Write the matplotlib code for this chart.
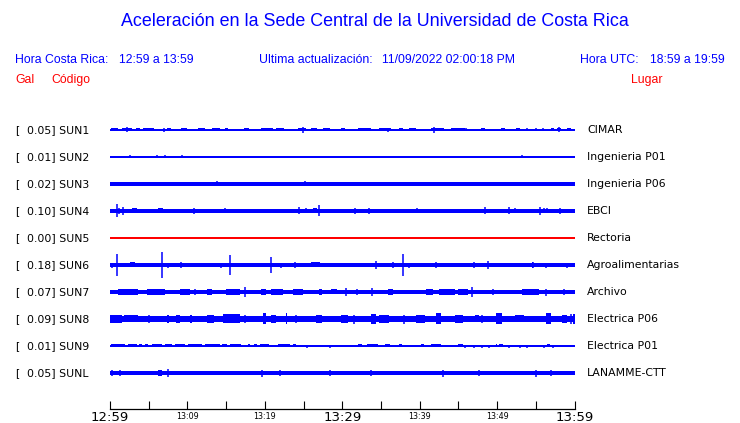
import matplotlib
matplotlib.use("Agg")
import matplotlib.pyplot as plt

# ---------------- data ----------------
codes = ["SUN1", "SUN2", "SUN3", "SUN4", "SUN5", "SUN6", "SUN7", "SUN8", "SUN9", "SUNL"]
peaks = ["0.05", "0.01", "0.02", "0.10", "0.00", "0.18", "0.07", "0.09", "0.01", "0.05"]
places = ["CIMAR", "Ingenieria P01", "Ingenieria P06", "EBCI", "Rectoria",
          "Agroalimentarias", "Archivo", "Electrica P06", "Electrica P01", "LANAMME-CTT"]
trace_colors = ["#0000ff"] * 4 + ["#ff0000"] + ["#0000ff"] * 5

# background half-amplitude of each trace (screen-pixel units)
base_amp = [0.55, 0.55, 1.8, 1.6, 0.55, 1.6, 2.1, 2.7, 0.55, 1.6]

# bursts: (start minute, end minute, half-amplitude)
sun1_bursts = [(0.1, 1.0, 1.5), (1.5, 2.8, 1.5), (3.4, 3.9, 1.5), (4.3, 5.7, 1.5), (7.4, 7.9, 1.5),
               (9.2, 9.9, 1.5), (10.1, 10.8, 1.2), (11.4, 12.3, 1.5), (12.5, 13.0, 1.2), (13.2, 14.2, 1.5),
               (14.5, 14.7, 1.2), (14.8, 15.2, 1.5), (15.6, 16.4, 1.2), (17.3, 17.9, 1.5), (18.5, 18.7, 1.2),
               (19.5, 21.0, 1.5), (21.4, 22.5, 1.5), (23.2, 23.6, 1.2), (24.3, 25.3, 1.5), (25.9, 26.8, 1.5),
               (27.5, 28.4, 1.5), (28.8, 29.4, 1.2), (29.8, 30.3, 1.5), (31.2, 31.6, 1.2), (32.0, 33.7, 1.5),
               (34.8, 36.3, 1.5), (37.3, 37.9, 1.5), (38.6, 39.5, 1.5), (40.4, 40.8, 1.2), (41.4, 43.1, 1.5),
               (44.0, 44.9, 1.5), (45.0, 45.9, 1.5), (47.9, 48.5, 1.5), (49.5, 49.8, 1.2), (50.5, 51.0, 1.5),
               (52.4, 53.0, 1.5), (56.9, 57.3, 1.5), (57.7, 58.2, 1.5), (59.0, 59.6, 1.5)]
sun2_bursts = [(2.5, 2.8, 1.2), (6.8, 7.0, 1.2)]
sun3_bursts = []
sun4_bursts = [(2.8, 3.5, 2.5), (6.2, 6.8, 2.5), (26.2, 26.7, 2.5), (36.6, 37.2, 2.2), (45.2, 46.3, 2.2)]
sun5_bursts = []
sun6_bursts = [(2.6, 3.2, 2.5), (8.1, 8.6, 2.0), (16.3, 17.5, 2.0), (25.9, 27.1, 2.5), (39.2, 40.5, 2.0),
               (45.4, 46.1, 2.0), (54.5, 54.7, 3.0)]
sun7_bursts = [(1.0, 3.6, 3.0), (4.8, 7.1, 2.8), (9.0, 10.3, 3.0), (12.5, 13.2, 3.0), (15.0, 16.8, 2.8),
               (19.5, 20.1, 3.0), (20.8, 22.3, 2.8), (23.6, 24.9, 3.0), (27.0, 27.4, 2.8), (28.5, 29.3, 2.5),
               (35.9, 36.5, 2.8), (40.8, 41.7, 2.8), (42.5, 44.5, 2.8), (45.0, 46.3, 2.8), (53.2, 55.4, 2.8)]
sun8_bursts = [(0.0, 1.5, 4.0), (1.8, 3.6, 3.5), (7.3, 7.6, 4.0), (8.5, 9.0, 4.0), (10.3, 10.6, 4.0),
               (12.5, 13.4, 4.0), (14.6, 16.8, 4.5), (19.7, 20.1, 5.5), (20.8, 21.5, 3.8), (22.7, 22.9, 5.5),
               (26.6, 27.4, 3.8), (29.8, 30.8, 3.8), (33.7, 34.3, 5.0), (34.8, 36.0, 3.8), (39.5, 40.7, 3.8),
               (42.1, 42.7, 5.5), (44.6, 45.6, 4.0), (47.2, 47.6, 3.5), (49.9, 50.6, 5.5), (52.3, 53.5, 3.5),
               (56.3, 57.0, 5.5), (58.4, 59.0, 4.0), (59.8, 60.0, 5.0)]
sun9_bursts = [(0.1, 1.9, 1.5), (2.3, 3.5, 1.5), (3.7, 4.1, 1.5), (4.5, 4.9, 1.5), (5.4, 6.7, 1.5),
               (7.1, 8.0, 1.5), (8.4, 9.7, 1.5), (10.1, 11.9, 1.5), (12.3, 14.2, 1.5), (14.5, 15.1, 1.5),
               (15.5, 16.9, 1.5), (17.8, 18.1, 1.5), (18.6, 19.0, 1.5), (19.4, 20.6, 1.5), (21.7, 23.2, 1.5),
               (23.6, 24.0, 1.5), (32.0, 32.6, 1.5), (33.2, 34.6, 1.5), (35.5, 36.2, 1.5), (37.3, 37.7, 1.5),
               (40.2, 40.6, 1.5), (41.4, 42.7, 1.5), (45.0, 45.6, 1.5), (49.8, 50.0, 1.5), (50.3, 50.8, 1.5),
               (56.5, 56.8, 1.5)]
sunl_bursts = [(5.4, 5.7, 2.2), (6.2, 6.7, 2.5), (9.3, 9.9, 2.2)]

# spikes: (minute, half-amplitude)
sun1_spikes = [(2.2, 2.5), (7.0, 2.0), (24.9, 3.0), (35.9, 2.0), (41.8, 3.0), (46.0, 1.5),
               (53.8, 1.5), (55.0, 1.5), (55.9, 1.5), (58.0, 2.5)]
sun2_spikes = [(1.2, 1.2), (2.6, 1.5), (6.1, 1.5), (7.1, 1.5), (7.4, 1.2), (8.1, 1.0),
               (9.3, 1.5), (10.6, 1.0), (53.2, 1.5)]
sun3_spikes = [(13.8, 2.5), (25.2, 2.5)]
sun4_spikes = [(0.9, 6.5), (1.1, 3.0), (1.7, 4.0), (4.5, 1.5), (10.8, 3.0), (12.5, 2.0), (14.4, 2.0),
               (14.8, 2.5), (20.5, 1.5), (21.2, 2.0), (24.4, 3.5), (25.3, 2.5), (27.0, 5.5), (31.7, 3.0),
               (33.5, 3.0), (38.7, 2.0), (39.7, 2.5), (42.7, 1.5), (44.7, 2.0), (48.5, 3.5), (51.6, 3.5),
               (52.3, 2.5), (55.5, 4.0), (56.1, 2.5), (56.4, 2.5), (57.0, 2.0), (58.1, 3.0)]
sun5_spikes = []
sun6_spikes = [(0.9, 10.5), (6.7, 12.5), (15.5, 10.0), (20.8, 7.5), (37.8, 11.0),
               (0.3, 2.5), (4.3, 2.0), (5.7, 2.0), (7.5, 2.5), (9.2, 3.0), (9.9, 2.0), (11.0, 2.0),
               (11.6, 2.0), (12.3, 2.0), (13.2, 2.0), (14.3, 2.5), (18.3, 2.0), (22.1, 2.5), (23.9, 3.0),
               (24.9, 2.0), (29.2, 2.0), (30.2, 2.0), (31.7, 2.0), (33.0, 2.0), (34.3, 3.5), (36.6, 3.0),
               (38.6, 2.5), (42.1, 3.0), (43.6, 2.0), (47.0, 3.0), (48.8, 4.0), (49.5, 2.0), (52.5, 2.0),
               (54.6, 3.0), (56.3, 2.5), (59.0, 2.5)]
sun7_spikes = [(11.0, 3.0), (17.4, 4.5), (30.5, 4.0), (31.9, 3.0), (33.9, 4.0), (46.8, 5.5),
               (49.5, 3.0), (56.3, 3.5), (58.6, 3.0)]
sun8_spikes = [(5.0, 4.0), (17.5, 4.0), (24.0, 4.0), (31.5, 4.5), (38.0, 4.5), (48.0, 4.0), (59.5, 5.0)]
sun9_spikes = [(25.5, 1.5), (28.4, 1.5), (45.8, 1.5), (47.0, 1.5), (48.0, 1.5), (49.0, 1.5),
               (51.5, 1.5), (52.9, 1.5), (53.9, 1.5), (56.0, 1.5), (57.2, 1.5)]
sunl_spikes = [(0.3, 3.0), (0.6, 2.0), (1.3, 2.5), (3.2, 2.0), (7.5, 4.0), (12.6, 2.0), (17.4, 2.0),
               (19.6, 3.5), (21.9, 2.5), (28.4, 3.0), (33.7, 2.5), (36.3, 2.0), (38.5, 1.5), (43.0, 3.5),
               (45.9, 2.0), (47.6, 2.5), (52.8, 2.0), (55.0, 3.5), (57.0, 2.5)]

all_bursts = [sun1_bursts, sun2_bursts, sun3_bursts, sun4_bursts, sun5_bursts,
              sun6_bursts, sun7_bursts, sun8_bursts, sun9_bursts, sunl_bursts]
all_spikes = [sun1_spikes, sun2_spikes, sun3_spikes, sun4_spikes, sun5_spikes,
              sun6_spikes, sun7_spikes, sun8_spikes, sun9_spikes, sunl_spikes]

tick_minutes = list(range(0, 61, 5))
tick_labels = {0: "12:59", 10: "13:09", 20: "13:19", 30: "13:29", 40: "13:39", 50: "13:49", 60: "13:59"}
big_ticks = [0, 30, 60]

title = "Aceleración en la Sede Central de la Universidad de Costa Rica"

# ---------------- drawing ----------------
W, H = 740, 423
fig = plt.figure(figsize=(W / 100, H / 100), dpi=100)
fig.patch.set_facecolor("white")

SPACING = 27.0  # pixels between traces
left_px, right_px, top_px, bot_px = 110, 574.5, 116.5, 409
ax = fig.add_axes([left_px / W, 1 - bot_px / H, (right_px - left_px) / W, (bot_px - top_px) / H])
ax.set_xlim(0, 60)
ax.set_ylim(-0.5 + (bot_px - top_px) / SPACING, -0.5)

for i in range(len(codes)):
    c = trace_colors[i]
    b = base_amp[i] / SPACING
    ax.fill_between([0, 60], i - b, i + b, color=c, lw=0)
    for t0, t1, h in all_bursts[i]:
        hh = h / SPACING
        ax.fill_between([t0, t1], i - hh, i + hh, color=c, lw=0)
    if all_spikes[i]:
        ts = [s[0] for s in all_spikes[i]]
        hs = [s[1] / SPACING for s in all_spikes[i]]
        ax.vlines(ts, [i - h for h in hs], [i + h for h in hs], color=c, lw=1.1)

for s in ["top", "left", "right"]:
    ax.spines[s].set_visible(False)
ax.spines["bottom"].set_linewidth(0.9)
ax.set_yticks([])
ax.set_xticks(tick_minutes)
ax.set_xticklabels([tick_labels.get(m, "") for m in tick_minutes])
ax.tick_params(axis="x", direction="in", length=5.8, width=0.8, pad=1.5)
for m, lab in zip(tick_minutes, ax.get_xticklabels()):
    lab.set_family("DejaVu Sans")
    lab.set_fontsize(9.5 if m in big_ticks else 5.8)
    if m not in big_ticks:
        lab.set_y(-0.004)

def ftext(x, y, s, **kw):
    fig.text(x / W, 1 - y / H, s, va="center", **kw)

ftext(375, 22, title, ha="center", color="#0000ff", fontsize=12.9, family="Liberation Sans")
hdr = dict(color="#0000ff", fontsize=8.8, family="Liberation Sans")
ftext(15, 60, "Hora Costa Rica:", **hdr)
ftext(119, 60, "12:59 a 13:59", **hdr)
ftext(259, 60, "Ultima actualización:", **hdr)
ftext(382, 60, "11/09/2022 02:00:18 PM", **hdr)
ftext(580, 60, "Hora UTC:", **hdr)
ftext(650, 60, "18:59 a 19:59", **hdr)
red = dict(color="#ff0000", fontsize=8.8, family="Liberation Sans")
ftext(15, 80, "Gal", **red)
ftext(51, 80, "Código", **red)
ftext(631, 80, "Lugar", **red)

for i in range(len(codes)):
    y = 130 + SPACING * i
    ftext(15, y, "[", fontsize=7.8, family="DejaVu Sans", color="black")
    ftext(27, y, f"{peaks[i]}] {codes[i]}", fontsize=7.8, family="DejaVu Sans", color="black")
    ftext(587, y, places[i], fontsize=7.8, family="DejaVu Sans", color="black")

fig.savefig("out.png", dpi=100, facecolor="white")
